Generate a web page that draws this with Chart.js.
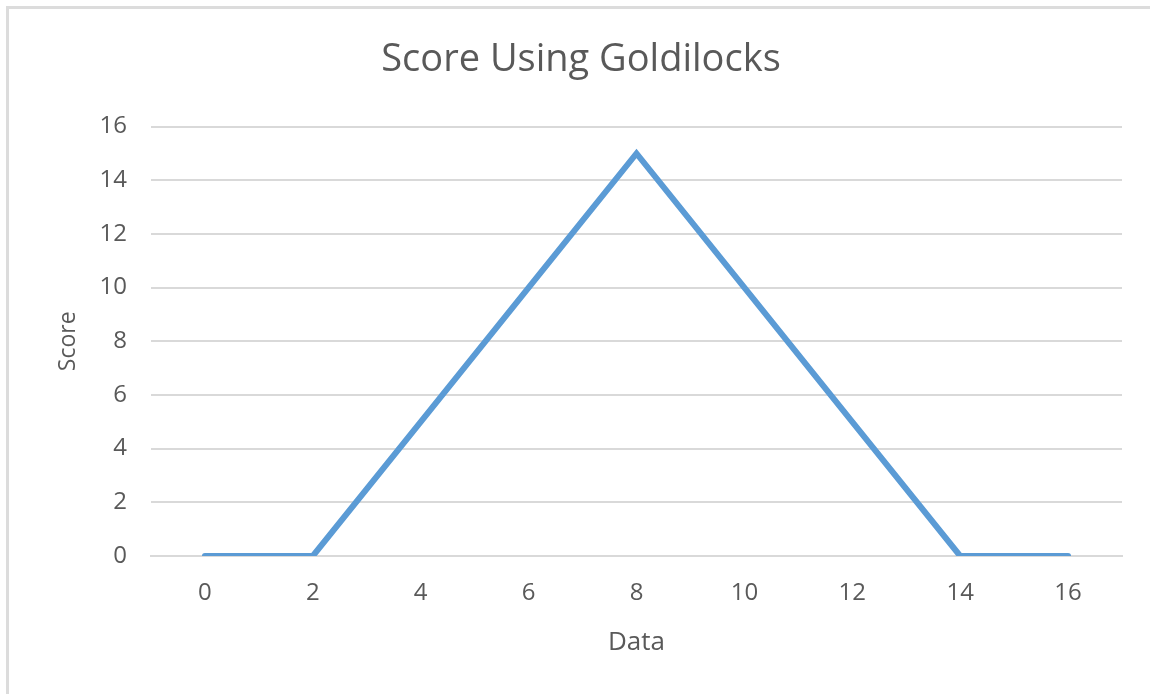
<!DOCTYPE html>
<html>
<head>
<meta charset="utf-8">
<script src="https://cdn.jsdelivr.net/npm/chart.js@4/dist/chart.umd.min.js"></script>
<style>
    body { margin: 0; background: #fff; }
    #wrap { position: relative; width: 1150px; height: 694px; overflow: hidden; }
    #frame {
        position: absolute; left: 6px; top: 6px; width: 1150px; height: 720px;
        border: 3px solid #dcdcdc; pointer-events: none;
    }
</style>
</head>
<body>
<div id="wrap">
    <canvas id="score-graph" width="1150" height="694"></canvas>
    <div id="frame"></div>
</div>
<script>
// Data
let dataLabels = ['0', '2', '4', '6', '8', '10', '12', '14', '16'];
let scoreValues = [0, 0, 5, 10, 15, 10, 5, 0, 0];
let yTicks = [0, 2, 4, 6, 8, 10, 12, 14, 16];

let textColor = '#595959';
let gridColor = '#d9d9d9';
let fontFamily = "'Open Sans', 'Liberation Sans', sans-serif";

let ctx = document.getElementById('score-graph').getContext('2d');
let scoreGraph = new Chart(ctx, {
    type: 'line',
    data: {
        labels: dataLabels,
        datasets: [{
            label: 'Score',
            data: scoreValues,
            borderColor: '#5b9bd5',
            borderWidth: 6,
            pointRadius: 0,
            borderCapStyle: 'round',
            borderJoinStyle: 'miter',
            tension: 0
        }]
    },
    options: {
        responsive: false,
        animation: false,
        layout: {
            padding: { left: 40, right: 28, top: 30, bottom: 30 }
        },
        plugins: {
            legend: { display: false },
            tooltip: { enabled: false },
            title: {
                display: true,
                text: 'Score Using Goldilocks',
                color: textColor,
                font: { family: fontFamily, size: 38, weight: 'normal' },
                padding: { top: 7, bottom: 44 }
            }
        },
        scales: {
            x: {
                offset: true,
                grid: { display: false, drawTicks: false },
                border: { display: true, color: gridColor, width: 2 },
                ticks: {
                    color: textColor,
                    font: { family: fontFamily, size: 24 },
                    padding: 23,
                    maxRotation: 0
                },
                title: {
                    display: true,
                    text: 'Data',
                    color: textColor,
                    font: { family: fontFamily, size: 26 },
                    padding: { top: 10, bottom: 6 }
                },
                afterFit: function(scale) { scale.height = 108; }
            },
            y: {
                min: 0,
                max: 16,
                afterBuildTicks: function(scale) {
                    scale.ticks = yTicks.map(v => ({ value: v }));
                },
                grid: {
                    color: gridColor,
                    lineWidth: 2,
                    drawTicks: false
                },
                border: { display: false },
                ticks: {
                    color: textColor,
                    font: { family: fontFamily, size: 24 },
                    padding: 24
                },
                title: {
                    display: true,
                    text: 'Score',
                    color: textColor,
                    font: { family: fontFamily, size: 23 },
                    padding: { top: 15, bottom: 0 }
                },
                afterFit: function(scale) { scale.width = 111; }
            }
        }
    }
});
</script>
</body>
</html>
